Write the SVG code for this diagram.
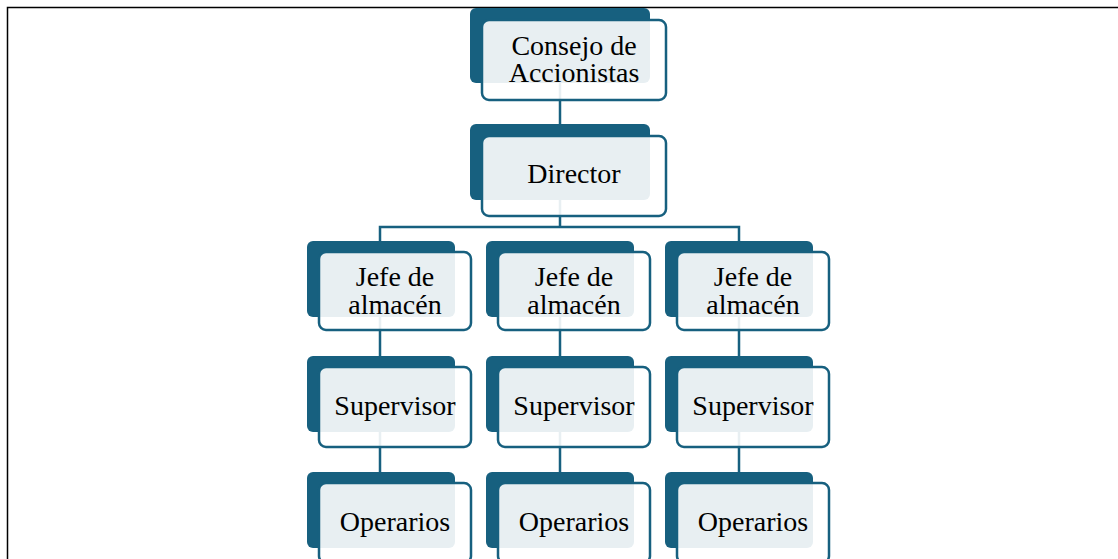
<svg xmlns="http://www.w3.org/2000/svg" width="1118" height="559" viewBox="0 0 1118 559">
<style>
.back{fill:#17607f}
.front{fill:#ffffff;fill-opacity:0.9;stroke:#17607f;stroke-width:2.5}
.conn{fill:none;stroke:#17607f;stroke-width:2.5}
.t{font-family:"Liberation Serif","Times New Roman",serif;font-size:28px;fill:#000;text-anchor:middle}
</style>
<rect width="1118" height="559" fill="#fff"/>
<path d="M7.5 559 V7.5 H1118" fill="none" stroke="#000" stroke-width="1.5"/>
<g id="connectors">
<path class="conn" d="M560 83 V124"/>
<path class="conn" d="M560 200 V227 M380 241 V227 H739 V241"/>
<path class="conn" d="M380 317 V356 M560 317 V356 M739 317 V356"/>
<path class="conn" d="M380 432 V472 M560 432 V472 M739 432 V472"/>
</g>
<g id="consejo">
<rect class="back" x="470" y="8" width="180" height="75" rx="6"/>
<rect class="front" x="482" y="20" width="184" height="80" rx="7"/>
<text class="t" x="574" y="55">Consejo de</text>
<text class="t" x="574" y="82">Accionistas</text>
</g>
<g id="director">
<rect class="back" x="470" y="124" width="180" height="76" rx="6"/>
<rect class="front" x="482" y="136" width="184" height="80" rx="7"/>
<text class="t" x="574" y="183">Director</text>
</g>
<g id="jefe1">
<rect class="back" x="307" y="241" width="148" height="76" rx="6"/>
<rect class="front" x="319" y="252" width="152" height="78" rx="7"/>
<text class="t" x="395" y="286">Jefe de</text>
<text class="t" x="395" y="314">almacén</text>
</g>
<g id="jefe2">
<rect class="back" x="486" y="241" width="148" height="76" rx="6"/>
<rect class="front" x="498" y="252" width="152" height="78" rx="7"/>
<text class="t" x="574" y="286">Jefe de</text>
<text class="t" x="574" y="314">almacén</text>
</g>
<g id="jefe3">
<rect class="back" x="665" y="241" width="148" height="76" rx="6"/>
<rect class="front" x="677" y="252" width="152" height="78" rx="7"/>
<text class="t" x="753" y="286">Jefe de</text>
<text class="t" x="753" y="314">almacén</text>
</g>
<g id="supervisor1">
<rect class="back" x="307" y="356" width="148" height="76" rx="6"/>
<rect class="front" x="319" y="367" width="152" height="80" rx="7"/>
<text class="t" x="395" y="415">Supervisor</text>
</g>
<g id="supervisor2">
<rect class="back" x="486" y="356" width="148" height="76" rx="6"/>
<rect class="front" x="498" y="367" width="152" height="80" rx="7"/>
<text class="t" x="574" y="415">Supervisor</text>
</g>
<g id="supervisor3">
<rect class="back" x="665" y="356" width="148" height="76" rx="6"/>
<rect class="front" x="677" y="367" width="152" height="80" rx="7"/>
<text class="t" x="753" y="415">Supervisor</text>
</g>
<g id="operarios1">
<rect class="back" x="307" y="472" width="148" height="76" rx="6"/>
<rect class="front" x="319" y="483" width="152" height="80" rx="7"/>
<text class="t" x="395" y="531">Operarios</text>
</g>
<g id="operarios2">
<rect class="back" x="486" y="472" width="148" height="76" rx="6"/>
<rect class="front" x="498" y="483" width="152" height="80" rx="7"/>
<text class="t" x="574" y="531">Operarios</text>
</g>
<g id="operarios3">
<rect class="back" x="665" y="472" width="148" height="76" rx="6"/>
<rect class="front" x="677" y="483" width="152" height="80" rx="7"/>
<text class="t" x="753" y="531">Operarios</text>
</g>
</svg>
